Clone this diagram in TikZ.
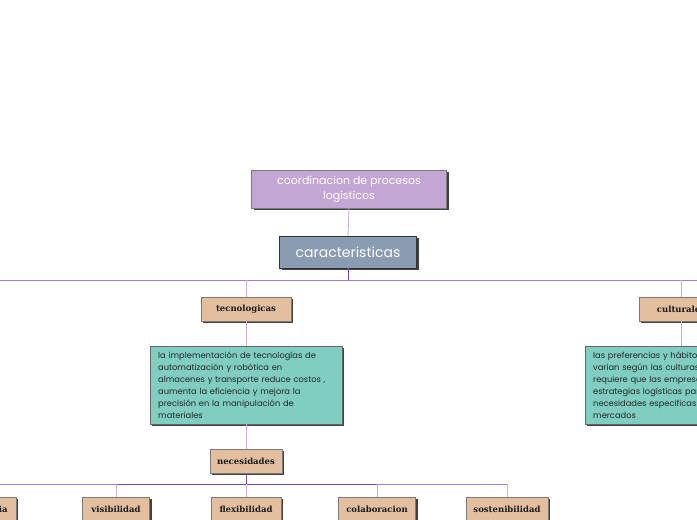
\documentclass[tikz,border=0pt]{standalone}
\usepackage{fontspec}
\usetikzlibrary{shadows}
\newfontfamily\popp{Poppins}
\newfontfamily\dser{DejaVu Serif}
\definecolor{lilac}{HTML}{C4A6D5}
\definecolor{slate}{HTML}{8A9CB2}
\definecolor{tan}{HTML}{E3BF9F}
\definecolor{teal2}{HTML}{7FCEC1}
\definecolor{linelight}{HTML}{CBAEE2}
\definecolor{linemid}{HTML}{A87CCB}
\definecolor{linedark}{HTML}{7D45AE}
\definecolor{bordergray}{HTML}{7A7A7A}
\newcommand{\tline}[1]{\mbox{#1}}
\tikzset{
  shadowed/.style={drop shadow={shadow xshift=2pt, shadow yshift=-2pt, fill=black!75, opacity=1}},
  topbox/.style={draw=bordergray, fill=lilac, shadowed, minimum width=195pt, minimum height=38pt, inner sep=0pt, align=center, text=white, font=\popp\fontsize{11}{15}\selectfont},
  mainbox/.style={draw=black!80, fill=slate, shadowed, minimum width=137pt, minimum height=32pt, inner sep=0pt, text=white, font=\popp\fontsize{14}{16}\selectfont},
  catbox/.style={draw=bordergray, fill=tan, shadowed, minimum height=24pt, inner sep=0pt, text=black!90, font=\dser\bfseries\fontsize{8.5}{10}\selectfont},
  notebox/.style={draw=black!60, fill=teal2, shadowed, minimum width=192pt, minimum height=78pt, text width=176pt, inner xsep=8pt, inner ysep=3pt, align=left, text=black!85, font=\popp\fontsize{8.3}{12}\selectfont},
  conn/.style={draw=linelight, line width=0.9pt},
  bus/.style={draw=linemid, line width=1pt},
}
\begin{document}
\begin{tikzpicture}[x=1pt,y=-1pt]
\useasboundingbox (0,0) rectangle (697,520);
\clip (0,0) rectangle (697,520);
% nodes
\node[topbox] (top) at (349,189) {coordinacion de procesos\\logisticos};
\node[mainbox] (car) at (348,252) {caracteristicas};
\node[catbox, minimum width=90pt] (tec) at (246,309) {tecnologicas};
\node[catbox, minimum width=84pt] (cul) at (681,309) {culturales};
\node[notebox, anchor=north west] (ntec) at (150,346) {\tline{la implementación de tecnologías de}\\\tline{automatización y robótica en}\\\tline{almacenes y transporte reduce costos ,}\\\tline{aumenta la eficiencia y mejora la}\\\tline{precisión en la manipulación de}\\\tline{materiales}};
\node[notebox, anchor=north west] (ncul) at (585,346) {\tline{las preferencias y hábitos de consumo}\\\tline{varian según las culturas , lo que}\\\tline{requiere que las empresas adapten sus}\\\tline{estrategias logísticas para satisfacer}\\\tline{necesidades especificas de diferentes}\\\tline{mercados}};
\node[catbox, minimum width=72pt] (nec) at (246,461) {necesidades};
\node[catbox, minimum width=62pt, anchor=north east] (efi) at (16,497) {eficiencia};
\node[catbox, minimum width=67pt, anchor=north] (vis) at (116,497) {visibilidad};
\node[catbox, minimum width=70pt, anchor=north] (fle) at (246,497) {flexibilidad};
\node[catbox, minimum width=77pt, anchor=north] (col) at (377,497) {colaboracion};
\node[catbox, minimum width=82pt, anchor=north] (sos) at (507,497) {sostenibilidad};
% bus coordinates
\coordinate (b1L) at (0,280);
\coordinate (b1R) at (697,280);
\coordinate (b2L) at (0,484);
% connectors
\draw[conn] (top.south) -- (car.north);
\draw[bus] (b1L) -- (b1R);
\draw[linedark, line width=1pt] (car.south) -- (car.south |- b1L);
\draw[conn] (tec.north) -- (tec.north |- b1L);
\draw[conn] (cul.north) -- (cul.north |- b1L);
\draw[conn] (tec.south) -- (tec.south |- ntec.north);
\draw[conn] (cul.south) -- (cul.south |- ncul.north);
\draw[conn] (tec.south |- ntec.south) -- (nec.north);
\draw[bus] (b2L) -- (sos.north |- b2L);
\draw[linedark, line width=1pt] (nec.south) -- (nec.south |- b2L);
\draw[linedark, line width=1pt] (vis.north |- b2L) -- (col.north |- b2L);
\draw[conn] (vis.north) -- (vis.north |- b2L);
\draw[conn] (fle.north) -- (fle.north |- b2L);
\draw[conn] (col.north) -- (col.north |- b2L);
\draw[conn] (sos.north) -- (sos.north |- b2L);
\end{tikzpicture}
\end{document}
